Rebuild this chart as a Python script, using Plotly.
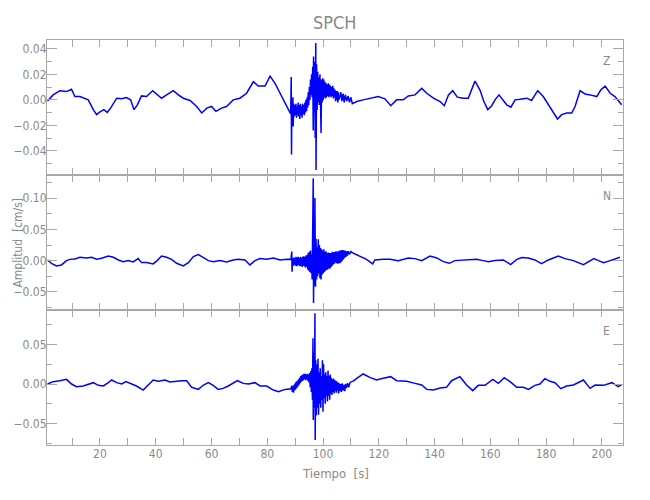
import plotly.graph_objects as go
from plotly.subplots import make_subplots

# ---------------- data ----------------
z_t = [1.2, 3.2, 5.6, 8.0, 9.8, 11.0, 12.8, 14.6, 15.8, 17.6, 18.8, 20.0, 21.4, 22.6, 23.8, 26.0, 27.8, 29.5,
       31.0, 32.2, 33.4, 34.9, 36.7, 38.9, 40.3, 42.1, 43.9, 46.3, 48.1, 49.9, 52.3, 54.7, 56.5, 58.3, 60.0,
       61.6, 63.6, 65.4, 67.8, 70.2, 72.6, 75.0, 76.8, 79.2, 81.0, 82.8, 84.6, 86.4, 87.9,
       88.4, 88.6, 88.7, 88.8, 89.0, 89.2, 89.3, 89.5, 89.7, 89.9, 90.1, 90.3, 90.5, 90.7, 90.9, 91.1, 91.3,
       91.5, 91.7, 91.9, 92.1, 92.3, 92.5, 92.7, 92.9, 93.1, 93.3, 93.5, 93.7, 93.9, 94.1, 94.3, 94.5, 94.7,
       94.9, 95.1, 95.3, 95.5, 95.7, 95.9, 96.1, 96.3, 96.5, 96.6, 96.8, 97.0, 97.2, 97.4, 97.5, 97.7, 97.9,
       98.1, 98.3, 98.5, 98.7, 98.9, 99.1, 99.3, 99.5, 99.7, 99.9, 100.1, 100.3, 100.5, 100.7, 100.9, 101.1,
       101.3, 101.5, 101.7, 101.9, 102.1, 102.3, 102.5, 102.7, 102.9, 103.1, 103.3, 103.5, 103.7, 103.9,
       104.1, 104.3, 104.5, 104.7, 104.9, 105.1, 105.3, 105.5, 105.7, 106.1, 106.4, 106.8, 107.2, 107.6,
       108.0, 108.5, 109.0, 109.5, 110.0, 110.5,
       112.1, 114.4, 116.8, 119.8, 122.2, 124.3, 126.4, 128.8, 130.6, 133.0, 135.4, 137.2, 139.6, 142.0,
       143.5, 145.0, 146.5, 148.2, 150.3, 152.1, 154.5, 156.3, 157.7, 159.1, 160.5, 161.7, 163.1, 164.4,
       165.9, 167.4, 168.9, 170.7, 173.1, 174.8, 177.0, 179.0, 181.4, 184.1, 185.6, 187.4, 189.2, 190.4,
       192.2, 194.0, 195.8, 198.2, 199.6, 201.2, 203.0, 204.7, 207.1]
z_v = [-0.0008, 0.0039, 0.0072, 0.0065, 0.0083, 0.0026, 0.0026, 0.0013, 0.0, -0.0077, -0.0116, -0.0095, -0.0077,
       -0.0098, -0.0065, 0.0013, 0.0008, 0.0018, 0.0, -0.0077, -0.0039, 0.0031, 0.0026, 0.0072, 0.0046, 0.0013,
       0.0039, 0.0072, 0.0039, 0.0013, -0.0005, -0.0052, -0.0103, -0.0065, -0.0052, -0.0090, -0.0065, -0.0052,
       0.0, 0.0013, 0.0052, 0.0142, 0.0108, 0.0108, 0.0186, 0.0129, 0.0052, -0.0026, -0.0098,
       -0.011, 0.018, -0.043, -0.004, -0.014, 0.002, -0.021, -0.003, -0.013, -0.004, -0.012, -0.003, -0.014,
       -0.005, -0.012, -0.002, -0.013, -0.004, -0.015, -0.003, -0.012, -0.005, -0.014, -0.003, -0.011, -0.004,
       -0.012, -0.002, -0.010, 0.000, -0.009, 0.002, -0.006, 0.006, -0.004, 0.010, 0.000, 0.016, 0.004, 0.020,
       0.002, 0.026, -0.024, 0.034, -0.010, 0.030, -0.030, 0.0446, -0.055, 0.028, -0.008, 0.022, -0.002, 0.018,
       -0.004, 0.020, 0.000, -0.026, 0.016, -0.002, 0.017, 0.000, 0.016, 0.002, 0.014, 0.001, 0.013, 0.002,
       0.012, 0.003, 0.013, 0.002, 0.012, 0.003, 0.011, 0.002, 0.010, 0.003, 0.011, 0.001, 0.009, 0.002, 0.008,
       -0.001, 0.007, 0.000, 0.007, -0.002, 0.006, 0.000, 0.0026, 0.006, -0.001, 0.005, -0.002, 0.004, -0.001,
       0.003, -0.002, 0.002, -0.003,
       -0.0013, 0.0, 0.0013, 0.0026, 0.0008, -0.0046, 0.0, 0.0, 0.0031, 0.0039, 0.0090, 0.0052, 0.0013, -0.0013,
       -0.0046, 0.0039, 0.0072, 0.0021, 0.0013, 0.0013, 0.0147, 0.0077, -0.0013, -0.0077, -0.0046, 0.0, 0.0039,
       0.0, -0.0039, -0.0057, 0.0, 0.0005, 0.0013, -0.0005, 0.0072, 0.0026, -0.0052, -0.0150, -0.0116, -0.0103,
       -0.0103, -0.0052, 0.0072, 0.0046, 0.0039, 0.0026, 0.0077, 0.0108, 0.0052, 0.0026, -0.0039]

n_t = [1.2, 2.6, 4.4, 6.2, 8.0, 9.2, 11.0, 12.8, 15.2, 17.0, 18.8, 20.6, 23.0, 24.8, 26.6, 28.4, 30.1, 31.9,
       33.7, 34.9, 36.7, 39.1, 40.5, 42.1, 43.9, 45.7, 47.5, 49.9, 51.7, 53.5, 55.3, 57.1, 58.9, 60.6, 63.0,
       65.4, 67.8, 69.6, 72.0, 73.8, 75.6, 77.4, 79.8, 82.2, 84.6, 87.0, 88.5,
       88.8, 88.9, 89.1, 89.3, 89.5, 89.7, 89.9, 90.1, 90.3, 90.5, 90.7, 90.9, 91.1, 91.3, 91.5, 91.7, 91.9,
       92.1, 92.3, 92.5, 92.7, 92.9, 93.1, 93.3, 93.5, 93.7, 93.9, 94.1, 94.3, 94.5, 94.7, 94.9, 95.1, 95.3,
       95.5, 95.7, 95.9, 96.1, 96.3, 96.5, 96.6, 96.8, 97.0, 97.1, 97.3, 97.5, 97.7, 97.9, 98.1, 98.3, 98.5,
       98.7, 98.9, 99.1, 99.3, 99.5, 99.7, 99.9, 100.1, 100.3, 100.5, 100.7, 100.9, 101.1, 101.3, 101.5, 101.7,
       101.9, 102.1, 102.3, 102.5, 102.7, 102.9, 103.1, 103.3, 103.5, 103.7, 103.9, 104.1, 104.3, 104.5,
       104.7, 104.9, 105.1, 105.3, 105.5, 105.7, 105.9, 106.1, 106.3, 106.5, 106.7, 106.9, 107.1, 107.3,
       107.5, 107.7, 107.9, 108.2, 108.5, 108.8, 109.1, 109.5, 110.0, 110.3,
       112.1, 113.9, 115.6, 117.8, 118.6, 121.6, 124.0, 127.0, 130.6, 133.0, 135.4, 138.4, 140.8, 143.2,
       145.3, 147.3, 149.7, 152.1, 155.1, 157.5, 159.3, 161.7, 164.7, 167.3, 169.5, 171.3, 173.6, 176.0,
       178.4, 180.8, 184.4, 186.8, 189.8, 193.4, 195.5, 197.2, 198.8, 200.6, 203.0, 205.3, 206.5]
n_v = [0.001, -0.0043, -0.0085, -0.0069, 0.0, 0.002, 0.0027, 0.0053, 0.0043, 0.0053, 0.0021, 0.0037, 0.0074,
       0.0053, 0.0011, -0.0016, 0.0, -0.0021, 0.0032, -0.0032, -0.0032, -0.0053, 0.0, 0.0074, 0.0053, 0.0021,
       -0.0043, -0.0085, -0.0032, 0.0064, 0.0096, 0.0053, 0.0, -0.0016, 0.0, -0.0021, 0.0011, 0.0021, 0.0011,
       -0.0069, 0.0, 0.0032, 0.0021, 0.0043, 0.0011, 0.0021, 0.002,
       0.0144, -0.0176, 0.004, -0.008, 0.005, -0.007, 0.004, -0.008, 0.006, -0.009, 0.005, -0.008, 0.006,
       -0.007, 0.004, -0.009, 0.006, -0.008, 0.005, -0.010, 0.006, -0.008, 0.007, -0.009, 0.006, -0.011, 0.008,
       -0.010, 0.009, -0.014, 0.012, -0.016, 0.014, -0.018, 0.016, -0.020, 0.010, -0.030, 0.040, 0.1316,
       -0.068, 0.060, -0.040, 0.100, -0.042, 0.035, -0.030, 0.022, -0.025, 0.034, -0.020, 0.025, -0.028, 0.020,
       -0.030, 0.018, -0.022, 0.016, -0.020, 0.018, -0.018, 0.014, -0.016, 0.015, -0.015, 0.012, -0.014, 0.013,
       -0.012, 0.012, -0.013, 0.012, -0.010, 0.013, -0.008, 0.014, -0.006, 0.013, -0.005, 0.014, -0.003, 0.015,
       -0.004, 0.014, -0.005, 0.015, -0.004, 0.016, -0.004, 0.016, -0.002, 0.017, 0.000, 0.017, 0.002, 0.016,
       0.004, 0.016, 0.006, 0.015, 0.008, 0.015, 0.010, 0.0144, 0.013,
       0.009, 0.0053, 0.0021, -0.0053, 0.0011, 0.0021, 0.0021, 0.0, 0.0043, 0.0032, 0.0, 0.0074, 0.0043,
       -0.0016, -0.0043, 0.0, 0.0005, 0.0021, 0.0021, 0.0, -0.0016, 0.0, 0.0011, -0.0064, 0.0021, 0.0048,
       0.0043, 0.0011, -0.0048, 0.0011, 0.0074, 0.0032, 0.0, -0.0064, -0.0016, 0.0032, 0.0, -0.0032, 0.0,
       0.0037, 0.0053]

e_t = [1.2, 3.2, 5.6, 8.0, 9.8, 11.6, 14.0, 15.8, 17.6, 19.4, 21.2, 23.0, 24.2, 26.0, 27.8, 29.3, 31.3, 33.1,
       35.5, 37.3, 39.1, 40.9, 43.3, 45.1, 46.9, 49.3, 51.1, 52.9, 55.3, 57.1, 58.9, 60.6, 62.4, 64.2, 66.0,
       67.8, 69.3, 71.4, 73.2, 75.6, 77.4, 79.8, 82.2, 84.0, 86.4, 88.5,
       88.8, 89.0, 89.2, 89.4, 89.6, 89.8, 90.0, 90.2, 90.4, 90.6, 90.8, 91.0, 91.2, 91.4, 91.6, 91.8, 92.0,
       92.2, 92.4, 92.6, 92.8, 93.0, 93.2, 93.4, 93.6, 93.8, 94.0, 94.2, 94.4, 94.6, 94.8, 95.0, 95.2, 95.4,
       95.6, 95.8, 96.0, 96.2, 96.4, 96.5, 96.7, 96.9, 97.1, 97.2, 97.4, 97.6, 97.8, 98.0, 98.2, 98.4, 98.6,
       98.8, 99.0, 99.2, 99.4, 99.6, 99.8, 100.0, 100.2, 100.4, 100.6, 100.8, 101.0, 101.2, 101.4, 101.6,
       101.8, 102.0, 102.2, 102.4, 102.6, 102.8, 103.0, 103.2, 103.4, 103.6, 103.8, 104.0, 104.2, 104.4,
       104.6, 104.8, 105.0, 105.2, 105.4, 105.6, 105.8, 106.0, 106.3, 106.6, 106.9, 107.2, 107.5, 107.8,
       108.1, 108.4, 108.8, 109.2, 109.7, 110.3, 111.0,
       112.1, 114.4, 116.8, 119.2, 121.6, 124.3, 126.4, 130.0, 133.0, 135.4, 137.2, 139.6, 142.0, 144.3,
       146.1, 149.1, 151.5, 153.7, 155.7, 158.1, 160.9, 162.9, 165.0, 167.1, 169.5, 171.9, 173.7, 176.0,
       177.8, 179.6, 181.4, 183.2, 185.3, 187.4, 189.8, 193.4, 195.8, 197.6, 200.6, 203.6, 205.9, 207.1]
e_v = [0.0, 0.003, 0.0042, 0.0059, 0.0, -0.0034, -0.0025, -0.0008, 0.0017, -0.0017, -0.0025, 0.0017, 0.0051,
       0.0017, 0.0, 0.003, 0.0, -0.0025, -0.0076, -0.0013, 0.0051, 0.0034, 0.0051, 0.0025, 0.0034, 0.0042,
       0.0042, -0.0042, -0.0068, -0.0013, 0.0017, -0.0017, -0.0068, -0.0055, -0.0025, 0.0008, 0.0042, 0.0008,
       0.0, 0.0017, -0.0025, -0.0025, -0.0076, -0.0097, -0.0068, -0.006,
       -0.002, -0.010, -0.003, -0.011, -0.001, -0.008, 0.001, -0.007, 0.003, -0.005, 0.004, -0.003, 0.006,
       -0.001, 0.008, 0.001, 0.010, 0.003, 0.011, 0.004, 0.012, 0.005, 0.013, 0.006, 0.013, 0.005, 0.012,
       0.006, 0.013, 0.004, 0.012, 0.002, 0.014, -0.004, 0.016, -0.010, 0.020, -0.020, 0.058, -0.0456, 0.040,
       -0.030, 0.0895, -0.071, 0.030, -0.040, 0.025, -0.030, 0.032, -0.039, 0.015, -0.025, 0.020, -0.030,
       0.010, -0.020, 0.030, -0.035, 0.025, -0.018, 0.012, -0.025, 0.015, -0.015, 0.010, -0.022, 0.017,
       -0.015, 0.010, -0.020, 0.012, -0.012, 0.008, -0.014, 0.006, -0.010, 0.007, -0.012, 0.005, -0.009,
       0.004, -0.011, 0.003, -0.008, 0.002, -0.012, 0.001, -0.009, 0.000, -0.010, 0.001, -0.008, -0.001,
       -0.009, 0.000, -0.005, 0.001, -0.004, 0.002, 0.003, 0.004,
       0.0072, 0.0127, 0.0084, 0.0051, 0.0072, 0.0093, 0.0042, 0.0034, 0.0008, -0.0013, -0.0068, -0.0076,
       -0.0051, -0.0042, 0.0042, 0.0093, -0.0013, -0.0084, -0.0017, -0.0017, 0.0059, 0.0008, 0.008, 0.0030,
       -0.0042, -0.0042, -0.0068, -0.0017, 0.0, 0.0068, 0.0034, 0.0017, -0.0059, -0.0025, -0.0013, 0.0051,
       -0.0055, -0.0013, -0.0017, 0.0017, -0.0034, -0.0008]

channels = ["Z", "N", "E"]
x_range = [1.0, 207.6]
y_ranges = [[-0.059, 0.047], [-0.079, 0.137], [-0.0772, 0.0937]]
y_dtick = [0.02, 0.05, 0.05]
y_minor = [0.01, 0.025, 0.025]
x_ticks = list(range(10, 210, 10))
x_labels = [str(v) if v % 20 == 0 else "" for v in x_ticks]

# ---------------- figure ----------------
AX = "#a8a8a8"
TXT = "#8a8a8a"
FONT = "DejaVu Sans Condensed, DejaVu Sans"

fig = make_subplots(rows=3, cols=1, shared_xaxes=True, vertical_spacing=0)

for i, (t, v) in enumerate([(z_t, z_v), (n_t, n_v), (e_t, e_v)]):
    fig.add_trace(go.Scatter(x=t, y=v, mode="lines",
                             line=dict(color="#0000ff", width=1.5),
                             showlegend=False, hoverinfo="skip"),
                  row=i + 1, col=1)
    fig.update_yaxes(range=y_ranges[i], dtick=y_dtick[i], tick0=0, tickformat=".2f",
                     automargin=False, ticklabelstandoff=-3,
                     showline=True, linecolor=AX, linewidth=1, mirror="allticks",
                     ticks="inside", ticklen=10, tickcolor=AX, showgrid=False, zeroline=False,
                     tickfont=dict(family=FONT, size=12, color=TXT),
                     minor=dict(dtick=y_minor[i], tick0=0, ticks="inside", ticklen=5,
                                tickcolor=AX, showgrid=False),
                     row=i + 1, col=1)
    fig.update_xaxes(range=x_range, tickmode="array", tickvals=x_ticks, ticktext=x_labels,
                     automargin=False, ticklabelstandoff=-2,
                     showline=True, linecolor=AX, linewidth=1, mirror="allticks",
                     ticks="inside", ticklen=7, tickcolor=AX, showgrid=False, zeroline=False,
                     showticklabels=(i == 2),
                     tickfont=dict(family=FONT, size=12, color=TXT),
                     row=i + 1, col=1)

label_y = [0.948, 0.615, 0.281]
annotations = []
for name, yy in zip(channels, label_y):
    annotations.append(dict(text=name, x=0.972, y=yy, xref="paper", yref="paper",
                            showarrow=False, xanchor="center", yanchor="middle",
                            font=dict(family=FONT, size=12, color=TXT)))
annotations.append(dict(text="SPCH", x=0.5, y=1.042, xref="paper", yref="paper", showarrow=False,
                        xanchor="center", yanchor="middle",
                        font=dict(family=FONT, size=18, color=TXT)))
annotations.append(dict(text="Tiempo  [s]", x=0.5, y=-0.07, xref="paper", yref="paper", showarrow=False,
                        xanchor="center", yanchor="middle",
                        font=dict(family=FONT, size=13, color=TXT)))
annotations.append(dict(text="Amplitud  [cm/s]", x=-0.0675, y=0.5, xref="paper", yref="paper",
                        showarrow=False, textangle=-90, xanchor="left", yanchor="middle",
                        font=dict(family=FONT, size=12, color=TXT)))

fig.update_layout(width=650, height=500, margin=dict(l=39, r=35, t=32, b=63),
                  paper_bgcolor="white", plot_bgcolor="white",
                  annotations=annotations)

fig.write_html("out.html")
